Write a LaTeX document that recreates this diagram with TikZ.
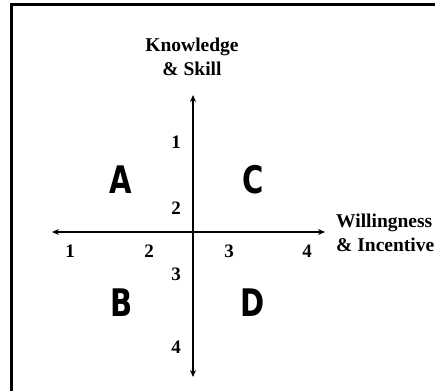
\documentclass[tikz,border=0pt]{standalone}
\usepackage{fontspec}
\setmainfont{Liberation Serif}
\newfontfamily\quadfont{DejaVu Sans Condensed}
\usetikzlibrary{arrows.meta}

\begin{document}
\begin{tikzpicture}[x=1pt, y=-1pt,
    axis/.style={line width=2.6pt, {Stealth[length=7pt,width=6pt]}-{Stealth[length=7pt,width=6pt]}},
    tick/.style={font=\bfseries\fontsize{19}{23}\selectfont, inner sep=0pt},
    quad/.style={font=\quadfont\bfseries\fontsize{38}{38}\selectfont, xscale=0.85, inner sep=0pt},
    title/.style={font=\bfseries\fontsize{19.5}{24}\selectfont, align=center, inner sep=0pt}]
    \useasboundingbox (0,0) rectangle (435,390);
    \draw[line width=3pt] (11,420) -- (11,5) -- (460,5);

    % axes
    \coordinate (top) at (193,95);
    \coordinate (bottom) at (193,377);
    \coordinate (left) at (52,232);
    \coordinate (right) at (325,232);
    \draw[axis] (bottom) -- (top);
    \draw[axis] (left) -- (right);

    % axis titles
    \node [title] (knowledge) at (192,57) {Knowledge\\\& Skill};
    \node [title, align=left, anchor=west] (willing) at (336,233) {Willingness\\\& Incentive};

    % scale numbers
    \node [tick] (h1) at (70,251) {1};
    \node [tick] (h2) at (149,251) {2};
    \node [tick] (h3) at (229,251) {3};
    \node [tick] (h4) at (307,251) {4};
    \node [tick] (v1) at (176,142) {1};
    \node [tick] (v2) at (176,208) {2};
    \node [tick] (v3) at (176,274) {3};
    \node [tick] (v4) at (176,347) {4};

    % quadrants
    \node [quad] (qa) at (121,180) {A};
    \node [quad] (qc) at (253,180) {C};
    \node [quad] (qb) at (122,303) {B};
    \node [quad] (qd) at (253,303) {D};
\end{tikzpicture}
\end{document}
